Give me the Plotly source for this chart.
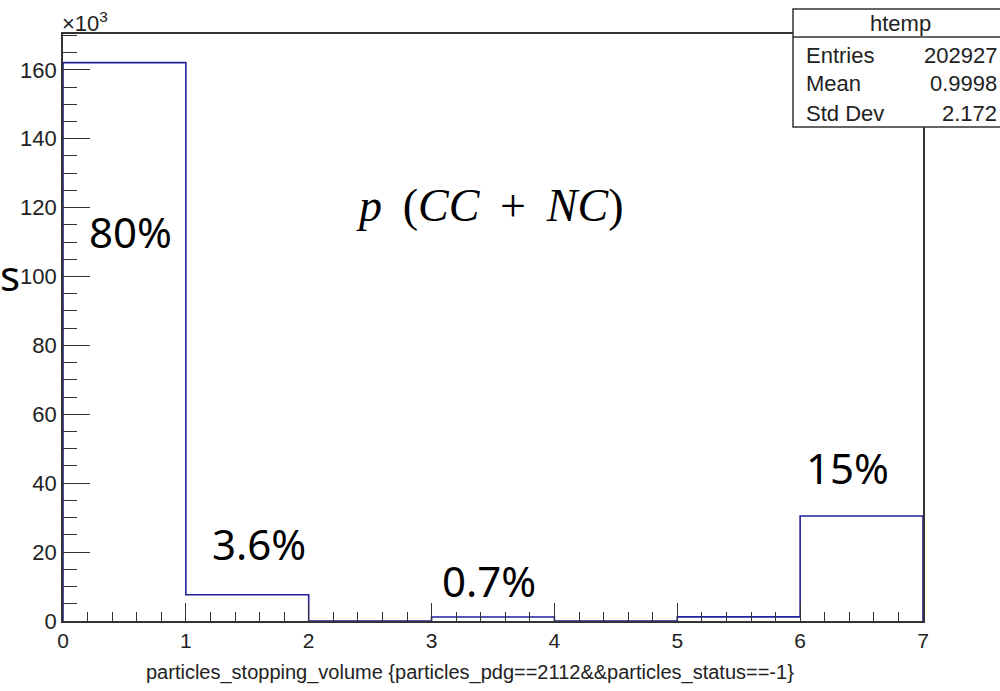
import plotly.graph_objects as go

# ---------------- data ----------------
bin_edges = [0, 1, 2, 3, 4, 5, 6, 7]
bin_counts = [162100, 7600, 0, 1150, 0, 1200, 30500]
y_tick_vals = [0, 20000, 40000, 60000, 80000, 100000, 120000, 140000, 160000]
y_tick_text = ["0", "20", "40", "60", "80", "100", "120", "140", "160"]
x_tick_vals = [0, 1, 2, 3, 4, 5, 6, 7]
stats_labels = ["Entries", "Mean", "Std Dev"]
stats_values = ["202927", "0.9998", "2.172"]
pct_labels = ["80%", "3.6%", "0.7%", "15%"]
pct_x = [0.546, 1.596, 3.469, 6.389]
pct_y = [113000, 22600, 11900, 44700]
hist_name = "htemp"
x_title = "particles_stopping_volume {particles_pdg==2112&&particles_status==-1}"

# ---------------- layout geometry (pixels) ----------------
W, H = 1000, 691
L, R, T, B = 63, 77, 34, 70
PW, PH = W - L - R, H - T - B


def px_x(p):
    return (p - L) / PW


def px_y(p):
    return (H - B - p) / PH


# step outline built from bins
xs, ys = [bin_edges[0]], [0]
for i, c in enumerate(bin_counts):
    xs += [bin_edges[i], bin_edges[i + 1]]
    ys += [c, c]
xs.append(bin_edges[-1])
ys.append(0)

fig = go.Figure()
fig.add_trace(go.Scatter(x=xs, y=ys, mode="lines",
                         line=dict(color="#22229c", width=1.6),
                         hoverinfo="skip", showlegend=False))

axis_font = dict(family="Liberation Sans, Arial, sans-serif", size=21, color="#222")
fig.update_layout(
    width=W, height=H,
    margin=dict(l=L, r=R, t=T, b=B, pad=0),
    paper_bgcolor="white", plot_bgcolor="white",
    showlegend=False,
    xaxis=dict(range=[0, 7], tickvals=x_tick_vals, ticks="inside", ticklen=18,
               tickwidth=1.3, tickcolor="#333", showgrid=False, zeroline=False,
               showline=True, linecolor="#333", linewidth=2, mirror=True,
               minor=dict(dtick=0.2, ticks="inside", ticklen=9, tickwidth=1.3,
                          tickcolor="#333", showgrid=False),
               tickfont=axis_font),
    yaxis=dict(range=[0, 170400], tickvals=y_tick_vals, ticktext=y_tick_text,
               ticks="inside", ticklen=27, tickwidth=1.3, tickcolor="#333",
               showgrid=False, zeroline=False, showline=True, linecolor="#333",
               linewidth=1.6, mirror=True,
               minor=dict(dtick=5000, ticks="inside", ticklen=14, tickwidth=1.3,
                          tickcolor="#333", showgrid=False),
               tickfont=dict(family="Liberation Sans, Arial, sans-serif", size=22, color="#222")),
)

# x axis title (offset left as in the reference)
fig.add_annotation(x=px_x(470), y=px_y(672), xref="paper", yref="paper", text=x_title,
                   showarrow=False,
                   font=dict(family="Liberation Sans, Arial, sans-serif", size=20, color="#222"),
                   xanchor="center", yanchor="middle")

big_font = dict(family="Noto Sans, Open Sans, sans-serif", size=42, color="black")
for t, x, y in zip(pct_labels, pct_x, pct_y):
    fig.add_annotation(x=x, y=y, xref="x", yref="y", text=t, showarrow=False,
                       font=big_font, xanchor="center", yanchor="middle")

# formula
fig.add_annotation(x=3.473, y=120500, xref="x", yref="y",
                   text="<i>p</i>\u2009 (<i>CC</i>\u2009 + \u2009<i>NC</i>)", showarrow=False,
                   font=dict(family="Liberation Serif, DejaVu Serif, serif", size=46, color="black"),
                   xanchor="center", yanchor="middle")

# stray "s" on the left edge
fig.add_annotation(x=px_x(-2), y=100500, xref="paper", yref="y", text="s",
                   showarrow=False, font=big_font, xanchor="left", yanchor="middle")

# x10^3 multiplier
fig.add_annotation(x=px_x(60), y=px_y(22), xref="paper", yref="paper",
                   text="×10<sup>3</sup>", showarrow=False,
                   font=dict(family="Liberation Sans, Arial, sans-serif", size=22, color="#222"),
                   xanchor="left", yanchor="middle")

# stats box
fig.add_shape(type="rect", xref="paper", yref="paper",
              x0=px_x(793), x1=px_x(1003), y0=px_y(127), y1=px_y(9),
              fillcolor="white", line=dict(color="#333", width=1.5), layer="above")
fig.add_shape(type="line", xref="paper", yref="paper",
              x0=px_x(793), x1=px_x(1003), y0=px_y(37), y1=px_y(37),
              line=dict(color="#333", width=1.5), layer="above")
stat_font = dict(family="Liberation Sans, Arial, sans-serif", size=22, color="#222")
fig.add_annotation(x=px_x(900), y=px_y(23), xref="paper", yref="paper", text=hist_name,
                   showarrow=False, font=stat_font, xanchor="center", yanchor="middle")
for i, (lab, val) in enumerate(zip(stats_labels, stats_values)):
    yy = px_y(55 + i * 29)
    fig.add_annotation(x=px_x(804), y=yy, xref="paper", yref="paper", text=lab,
                       showarrow=False, font=stat_font, xanchor="left", yanchor="middle")
    fig.add_annotation(x=px_x(999), y=yy, xref="paper", yref="paper", text=val,
                       showarrow=False, font=stat_font, xanchor="right", yanchor="middle")

fig.write_html("out.html")
